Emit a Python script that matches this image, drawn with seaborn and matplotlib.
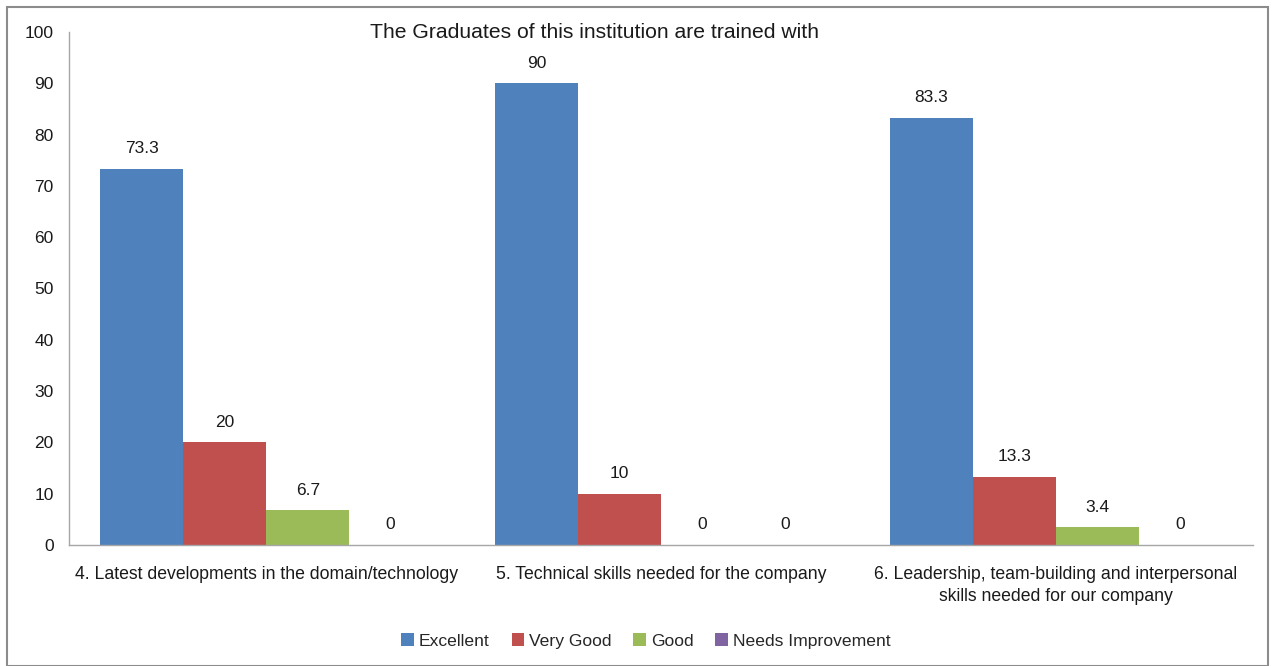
import matplotlib
matplotlib.use("Agg")
import matplotlib.pyplot as plt
import seaborn as sns
import pandas as pd
from matplotlib.patches import Rectangle

categories = ["4. Latest developments in the domain/technology",
              "5. Technical skills needed for the company",
              "6. Leadership, team-building and interpersonal\nskills needed for our company"]
series = ["Excellent", "Very Good", "Good", "Needs Improvement"]
excellent = [73.3, 90, 83.3]
very_good = [20, 10, 13.3]
good = [6.7, 0, 3.4]
needs_improvement = [0, 0, 0]
colors = ["#4F81BD", "#C0504D", "#9BBB59", "#8064A2"]
title = "The Graduates of this institution are trained with"

rows = []
for s, vals in zip(series, [excellent, very_good, good, needs_improvement]):
    for c, v in zip(categories, vals):
        rows.append({"category": c, "series": s, "value": v})
df = pd.DataFrame(rows)

sns.set_theme(style="white")
plt.rcParams['font.family'] = ['Liberation Sans', 'DejaVu Sans']

fig = plt.figure(figsize=(12.75, 6.66), dpi=100)
ax = fig.add_axes([0.054, 0.182, 0.929, 0.770])
sns.barplot(data=df, x="category", y="value", hue="series", order=categories,
            hue_order=series, palette=colors, width=0.84, saturation=1,
            linewidth=0, ax=ax)

for cont in ax.containers:
    labels = [f"{v:g}" for v in cont.datavalues]
    ax.bar_label(cont, labels=labels, padding=9, fontsize=12.5, color="#1a1a1a")

ax.set_ylim(0, 100)
ax.set_yticks(range(0, 101, 10))
ax.set_xlim(-0.5, 2.5)
ax.set_xlabel("")
ax.set_ylabel("")
ax.tick_params(axis="y", labelsize=12.5, colors="#1a1a1a", length=0, pad=11)
ax.tick_params(axis="x", labelsize=12.7, colors="#1a1a1a", length=0, pad=15)
for lbl in ax.get_xticklabels():
    lbl.set_linespacing(1.45)
for side in ["top", "right"]:
    ax.spines[side].set_visible(False)
for side in ["left", "bottom"]:
    ax.spines[side].set_color("#a6a6a6")
    ax.spines[side].set_linewidth(1)

leg = ax.legend(loc="upper center", bbox_to_anchor=(0.5 + (646/1275 - 0.5185) / 0.929, -0.142),
                ncol=4, frameon=False, fontsize=12.6, handlelength=0.7, handleheight=0.7,
                handletextpad=0.3, columnspacing=1.25)

fig.text(595/1275, 1 - 32/666, title, ha="center", va="center", fontsize=15.2, color="#1a1a1a")

fig.patches.append(Rectangle((7/1275, 0.0), 1 - 14/1275, 1 - 7/666, transform=fig.transFigure,
                             fill=False, edgecolor="#8c8c8c", linewidth=1.5))

fig.savefig("out.png", dpi=100)
